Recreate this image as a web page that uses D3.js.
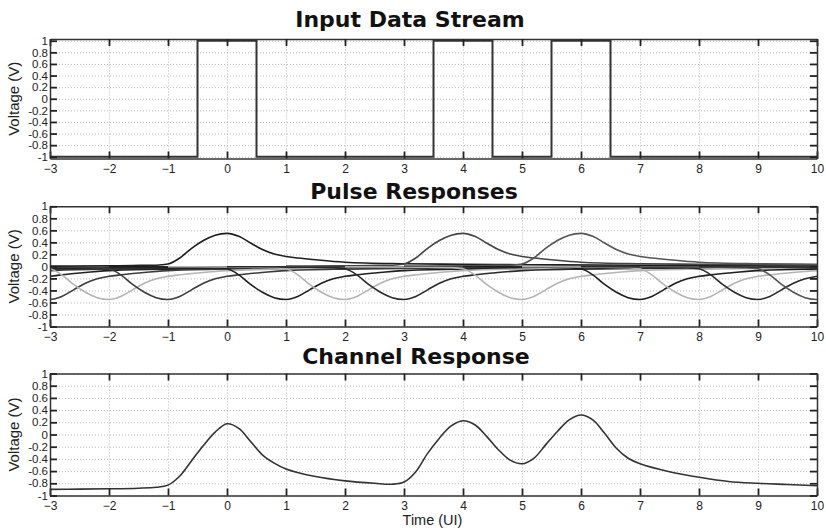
<!DOCTYPE html>
<html><head><meta charset="utf-8">
<script src="https://cdn.jsdelivr.net/npm/d3@7/dist/d3.min.js"></script>
<style>body{margin:0;background:#fff}svg{display:block}</style>
</head><body>
<svg id="c" width="826" height="528"></svg>
<script>
// ---- data ----
const bitTimes  = [-10,-9,-8,-7,-6,-5,-4,-3,-2,-1,0,1,2,3,4,5,6,7,8,9,10,11,12,13];
const bitValues = [-1,-1,-1,-1,-1,-1,-1,-1,-1,-1,1,-1,-1,-1,1,-1,1,-1,-1,-1,-1,-1,-1,-1];
const pulseColors = ["#333","#333","#333","#333","#222","#333","#222",
  "#3c3c3c","#b4b4b4","#3c3c3c","#1e1e1e","#1e1e1e","#b4b4b4","#2a2a2a","#444",
  "#b4b4b4","#555","#1e1e1e","#b4b4b4","#2a2a2a","#555","#333","#333","#333"];
// single pulse response (offset in UI from bit centre, volts)
const templateOffsets = [-3,-2,-1.6,-1.2,-1,-0.8,-0.6,-0.4,-0.2,0,0.2,0.4,0.6,0.8,1,1.2,1.5,2,3,4,5,7,10,14];
const templateValues  = [0.005,0.01,0.015,0.02,0.04,0.14,0.30,0.43,0.52,0.55,0.50,0.39,0.28,0.205,0.165,0.14,0.11,0.07,0.045,0.035,0.028,0.02,0.012,0.008];
const channelTimes  = [-3,-2.5,-2,-1.5,-1.2,-1,-0.8,-0.6,-0.4,-0.2,0,0.2,0.4,0.6,0.8,1,1.5,2,2.5,2.8,3,3.2,3.4,3.6,3.8,4,4.2,4.4,4.6,4.8,5,5.2,5.4,5.6,5.8,6,6.2,6.4,6.6,6.8,7,7.5,8,8.5,9,9.5,10];
const channelValues = [-0.90,-0.895,-0.89,-0.88,-0.865,-0.83,-0.68,-0.43,-0.18,0.04,0.175,0.10,-0.115,-0.335,-0.47,-0.565,-0.69,-0.76,-0.80,-0.815,-0.78,-0.61,-0.31,-0.06,0.14,0.225,0.16,-0.03,-0.25,-0.42,-0.48,-0.39,-0.17,0.05,0.24,0.32,0.24,0.02,-0.225,-0.39,-0.48,-0.61,-0.70,-0.77,-0.80,-0.82,-0.84];
const xTicks = [-3,-2,-1,0,1,2,3,4,5,6,7,8,9,10];
const yTicks = [-1,-0.8,-0.6,-0.4,-0.2,0,0.2,0.4,0.6,0.8,1];
const yTickLabels = ["-1","-0.8","-0.6","-0.4","-0.2","0","0.2","0.4","0.6","0.8","1"];
const titles = ["Input Data Stream","Pulse Responses","Channel Response"];
const yLabel = "Voltage (V)";
const xLabel = "Time (UI)";

// ---- layout ----
const svg = d3.select("#c");
const L = 50, R = 817;
const panels = [
  {top:39, bottom:158.5, dom:[-1.03,1.03], tx:410, ty:26.5},
  {top:206.3, bottom:326.5, dom:[-1,1], tx:414, ty:199},
  {top:373.5, bottom:495.5, dom:[-1,1], tx:416, ty:364.3}
];
const x = d3.scaleLinear().domain([-3,10]).range([L,R]);
const font = "'Liberation Sans', Arial, sans-serif";

panels.forEach((p,i)=>{
  const y = d3.scaleLinear().domain(p.dom).range([p.bottom,p.top]);
  p.y = y;
  const g = svg.append("g");
  const cid = "clip"+i;
  svg.append("clipPath").attr("id",cid).append("rect")
    .attr("x",L).attr("y",p.top).attr("width",R-L).attr("height",p.bottom-p.top);
  // grid
  const gx = g.append("g").attr("transform",`translate(0,${p.bottom})`)
    .call(d3.axisBottom(x).tickValues(xTicks).tickSize(-(p.bottom-p.top)).tickFormat(""));
  const gy = g.append("g").attr("transform",`translate(${L},0)`)
    .call(d3.axisLeft(y).tickValues(yTicks).tickSize(-(R-L)).tickFormat(""));
  [gx,gy].forEach(a=>{a.select(".domain").remove();
    a.selectAll("line").attr("stroke","#b8b8b8").attr("stroke-width",1).attr("stroke-dasharray","1,2");});
  p.g = g; p.clip = `url(#${cid})`;
});

// panel 1: input stream
{
  const p = panels[0];
  const line = d3.line().x((d,i)=>x(bitTimes[i])).y(d=>p.y(d)).curve(d3.curveStep);
  p.g.append("path").attr("clip-path",p.clip).datum(bitValues).attr("d",line)
    .attr("fill","none").attr("stroke","#333").attr("stroke-width",2);
}
// panel 2: pulse responses
{
  const p = panels[1];
  const line = d3.line().x(d=>x(d[0])).y(d=>p.y(d[1])).curve(d3.curveMonotoneX);
  const gp = p.g.append("g").attr("clip-path",p.clip);
  bitTimes.forEach((t,i)=>{
    const pts = templateOffsets.map((o,k)=>[t+o, bitValues[i]*templateValues[k]]);
    gp.append("path").datum(pts).attr("d",line).attr("fill","none")
      .attr("stroke",pulseColors[i]).attr("stroke-width",1.6);
  });
}
// panel 3: channel response
{
  const p = panels[2];
  const line = d3.line().x((d,i)=>x(channelTimes[i])).y(d=>p.y(d)).curve(d3.curveCatmullRom.alpha(0.5));
  p.g.append("path").attr("clip-path",p.clip).datum(channelValues).attr("d",line)
    .attr("fill","none").attr("stroke","#333").attr("stroke-width",1.6);
}

// frames, ticks, labels
panels.forEach((p,i)=>{
  const g = svg.append("g");
  const y = p.y;
  const ax = [
    g.append("g").attr("transform",`translate(0,${p.bottom})`).call(d3.axisBottom(x).tickValues(xTicks).tickSizeInner(-7).tickSizeOuter(0).tickPadding(6)),
    g.append("g").attr("transform",`translate(0,${p.top})`).call(d3.axisTop(x).tickValues(xTicks).tickSizeInner(-7).tickSizeOuter(0).tickFormat("")),
    g.append("g").attr("transform",`translate(${L},0)`).call(d3.axisLeft(y).tickValues(yTicks).tickFormat((d,k)=>yTickLabels[k]).tickSizeInner(-7).tickSizeOuter(0).tickPadding(2)),
    g.append("g").attr("transform",`translate(${R},0)`).call(d3.axisRight(y).tickValues(yTicks).tickSizeInner(-7).tickSizeOuter(0).tickFormat(""))
  ];
  ax.forEach(a=>{
    a.select(".domain").attr("stroke","#333").attr("stroke-width",1.5);
    a.selectAll(".tick line").attr("stroke","#222").attr("stroke-width",1.8);
    a.selectAll("text").attr("font-family",font).attr("font-size",12).attr("fill","#222");
  });
  ax[2].selectAll("text").attr("font-size",11.5);
  g.append("text").attr("x",p.tx).attr("y",p.ty).attr("text-anchor","middle")
    .attr("font-family","'DejaVu Sans', Verdana, sans-serif").attr("font-weight","bold")
    .attr("font-size",22).attr("fill","#111").text(titles[i]);
  g.append("text").attr("transform",`translate(19,${(p.top+p.bottom)/2}) rotate(-90)`)
    .attr("text-anchor","middle").attr("font-family",font).attr("font-size",15)
    .attr("fill","#222").text(yLabel);
});
svg.append("text").attr("x",432.5).attr("y",524.5).attr("text-anchor","middle")
  .attr("font-family",font).attr("font-size",14.5).attr("fill","#222").text(xLabel);
</script>
</body></html>
